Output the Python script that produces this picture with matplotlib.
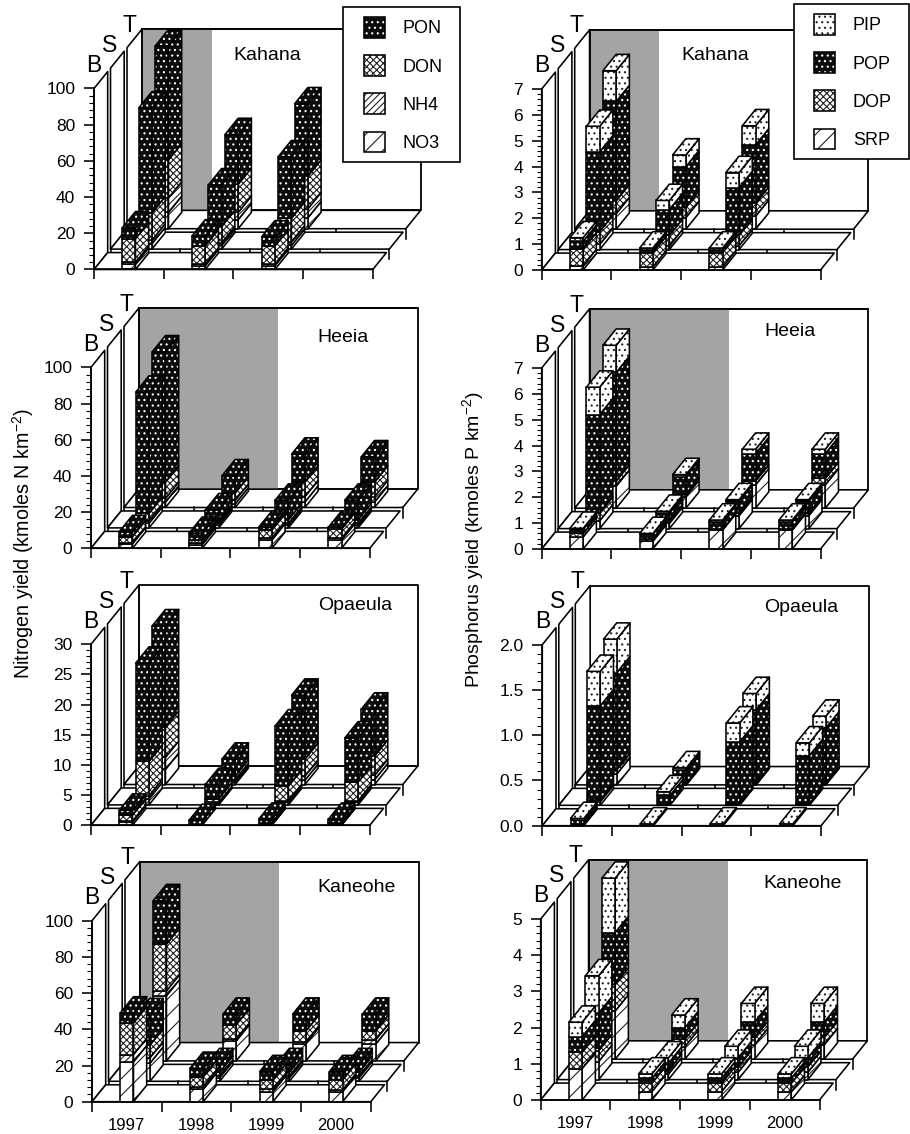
import numpy as np
import matplotlib
matplotlib.use("Agg")
import matplotlib.pyplot as plt
from matplotlib.patches import Polygon, Patch, Rectangle
from matplotlib.ticker import FixedLocator, NullFormatter
from matplotlib.legend_handler import HandlerTuple

plt.rcParams['font.family'] = ['Liberation Sans', 'DejaVu Sans']
plt.rcParams['mathtext.fontset'] = 'custom'
plt.rcParams['mathtext.rm'] = 'Liberation Sans'
plt.rcParams['mathtext.default'] = 'regular'
plt.rcParams['hatch.linewidth'] = 0.8

# ---------- data: each bar is a stack, bottom to top -------------------
years = ['1997', '1998', '1999', '2000']
rows = ['T', 'S', 'B']
n_labels = ['PON', 'DON', 'NH4', 'NO3']   # legend order (top to bottom)
p_labels = ['PIP', 'POP', 'DOP', 'SRP']

# Nitrogen: NO3, NH4, DON, PON
kahana_n_b = [[3, 1, 13, 6], [2, 1, 10, 5.5], [2, 1, 10, 5], [0, 0, 0, 0]]
kahana_n_s = [[3, 2, 15, 58], [2, 1.5, 9, 23], [2, 2, 13, 34], [0, 0, 0, 0]]
kahana_n_t = [[9, 8, 21, 63], [5, 4, 15.5, 27.5], [6, 5, 18, 40], [0, 0, 0, 0]]
heeia_n_b = [[2.5, .5, 3.5, 2.7], [2, 1, 1.5, 3.8], [4.6, 1, 4.5, 1.5], [4.6, 1, 5, 1]]
heeia_n_s = [[2.5, 1.5, 4, 67], [1.5, 1, 1.5, 6], [1.5, 1, 2, 10.8], [1.5, 1, 2, 10.8]]
heeia_n_t = [[3, 2, 9, 72], [2, 2, 4, 9.5], [3, 3, 8, 15.5], [3, 3, 8, 14]]
opaeula_n_b = [[.5, .2, 1, .8], [0, 0, 0, .8], [.1, .1, .2, .6], [.1, .1, .2, .6]]
opaeula_n_s = [[1, .5, 5.7, 16.3], [.2, .2, .6, 2.4], [.4, .3, 2.4, 10], [.4, .3, 3.1, 7.3]]
opaeula_n_t = [[2.5, 2, 5, 16.8], [.4, .4, .6, 2.8], [.7, .7, 2.8, 10.6], [.8, .7, 3.2, 7.8]]
kaneohe_n_b = [[22, 4, 17.5, 5.5], [6.8, 1.5, 5.5, 4.6], [5.5, 1.5, 5, 4.6], [5.5, 1, 5.5, 4.6]]
kaneohe_n_s = [[10, 3, 7, 16.8], [2, 1, 2, 4.2], [2, 1, 2, 4.2], [2, 1, 2, 4.2]]
kaneohe_n_t = [[36, 2.7, 25.8, 24], [11, 1, 8, 5.8], [9.6, .9, 6, 9.3], [9.2, 2.4, 5, 9.2]]

# Phosphorus: SRP, DOP, POP, PIP
kahana_p_b = [[.17, .64, .3, .14], [.12, .55, .12, .06], [.12, .55, .12, .06], [0, 0, 0, 0]]
kahana_p_s = [[.2, .5, 3.08, .99], [.15, .4, 1.0, .35], [.15, .4, 1.85, .58], [0, 0, 0, 0]]
kahana_p_t = [[.6, .5, 3.84, 1.19], [.45, .4, 1.57, .45], [.5, .5, 2.26, .74], [0, 0, 0, 0]]
heeia_p_b = [[.47, .13, .17, .03], [.3, .1, .17, .03], [.73, .03, .3, .06], [.73, .03, .3, .06]]
heeia_p_s = [[.3, .3, 3.81, 1.06], [.2, .1, .3, .07], [.5, .1, .45, .07], [.5, .1, .45, .07]]
heeia_p_t = [[.85, .2, 4.2, 1.05], [.45, .1, .67, .08], [.9, .15, 1.06, .17], [.9, .25, .96, .17]]
opaeula_p_b = [[.01, .01, .04, .02], [0, 0, 0, .02], [0, 0, 0, .02], [0, 0, 0, .02]]
opaeula_p_s = [[.04, .02, 1.04, .38], [0, 0, .11, .04], [.01, .01, .68, .21], [.01, .01, .53, .14]]
opaeula_p_t = [[.12, .05, 1.07, .37], [0, .02, .14, .03], [.01, .01, .81, .18], [.01, .01, .61, .13]]
kaneohe_p_b = [[.87, .45, .43, .4], [.23, .23, .14, .12], [.23, .23, .14, .12], [.23, .23, .14, .12]]
kaneohe_p_s = [[.5, .3, 1.04, 1.03], [.15, .1, .2, .15], [.2, .15, .25, .32], [.2, .15, .25, .32]]
kaneohe_p_t = [[1.33, .74, 1.43, 1.5], [.35, .2, .32, .35], [.4, .2, .43, .51], [.4, .2, .43, .51]]

# ---------- styles: (face, hatch colour, hatch) ------------------------
DARK = ('#0c0c0c', 'white', '...')
CROSS = ('white', '#222222', 'xxxxx')
DIAG = ('white', '#222222', '/////')
OPEN = ('white', '#222222', '//')
LIGHT = ('white', '#222222', '...')
N_STYLE = [OPEN, DIAG, CROSS, DARK]
P_STYLE = [OPEN, CROSS, DARK, LIGHT]

W, H = 910, 1134
SLOT = 69.7
PLOT_H = 181
DX_PX, DY_PX = 16.5, 20.4
ROW_DEPTH = {'B': .83, 'S': .83, 'T': .9}
ROW_FRONT = {'B': 0, 'S': 1, 'T': 2}
BAR_L, BAR_R, BAR_D = .405, .595, .8
LW = 1.15
GREY = '#a4a4a4'
TOTAL_D = 2.9

panels = [
    # name, origin px, ymax, major step, grey slots, title centre px, data, style, ticks fmt
    ('Kahana', 94, 269.5, 100, 20, 1, (267, 55), (kahana_n_t, kahana_n_s, kahana_n_b), N_STYLE, '%d', False),
    ('Heeia', 91, 548.3, 100, 20, 2, (343, 337), (heeia_n_t, heeia_n_s, heeia_n_b), N_STYLE, '%d', False),
    ('Opaeula', 91, 825.3, 30, 5, 0, (355, 606), (opaeula_n_t, opaeula_n_s, opaeula_n_b), N_STYLE, '%d', False),
    ('Kaneohe', 92, 1101.7, 100, 20, 2, (357, 887), (kaneohe_n_t, kaneohe_n_s, kaneohe_n_b), N_STYLE, '%d', True),
    ('Kahana', 541.7, 270, 7, 1, 1, (715, 55), (kahana_p_t, kahana_p_s, kahana_p_b), P_STYLE, '%d', False),
    ('Heeia', 541.7, 549, 7, 1, 2, (790, 332), (heeia_p_t, heeia_p_s, heeia_p_b), P_STYLE, '%d', False),
    ('Opaeula', 542.3, 825.7, 2.0, .5, 0, (801, 608), (opaeula_p_t, opaeula_p_s, opaeula_p_b), P_STYLE, '%.1f', False),
    ('Kaneohe', 540.7, 1100, 5, 1, 2, (803, 883), (kaneohe_p_t, kaneohe_p_s, kaneohe_p_b), P_STYLE, '%d', True),
]

fig = plt.figure(figsize=(W / 100, H / 100), dpi=100, facecolor='white')


def draw_panel(name, x0, y0, ymax, step, grey, tpos, data, style, fmt, show_years):
    ext_x = TOTAL_D * DX_PX
    ext_y = TOTAL_D * DY_PX
    ax = fig.add_axes([x0 / W, 1 - y0 / H, (4 * SLOT + ext_x) / W, (PLOT_H + ext_y) / H])
    ax.set_xlim(0, 4 + ext_x / SLOT)
    ax.set_ylim(0, ymax * (PLOT_H + ext_y) / PLOT_H)
    ax.patch.set_visible(False)
    px_v = ymax / PLOT_H
    dx, dy = DX_PX / SLOT, DY_PX * px_v
    order = [1.0]

    def proj(x, v, d):
        return (x + d * dx, v + d * dy)

    def poly(pts, fc='white', ec='black', lw=LW, st=None):
        order[0] += 0.0004
        if st is not None:
            ax.add_patch(Polygon(pts, closed=True, facecolor=st[0], edgecolor=st[1],
                                 hatch=st[2], lw=0, zorder=order[0], clip_on=False))
            ax.add_patch(Polygon(pts, closed=True, fill=False, edgecolor='black',
                                 lw=lw, zorder=order[0], clip_on=False, joinstyle='round'))
        else:
            ax.add_patch(Polygon(pts, closed=True, facecolor=fc, edgecolor=ec,
                                 lw=lw, zorder=order[0], clip_on=False, joinstyle='round'))

    def bar(row_d, slot, stack):
        if sum(stack) == 0:
            return
        xl, xr = slot + BAR_L, slot + BAR_R
        base = 0.0
        d0, d1 = row_d, row_d + BAR_D
        for val, st in zip(stack, style):
            if val <= 0:
                continue
            top = base + val
            poly([proj(xr, base, d0), proj(xr, base, d1), proj(xr, top, d1), proj(xr, top, d0)], st=st)
            poly([proj(xl, base, d0), proj(xr, base, d0), proj(xr, top, d0), proj(xl, top, d0)], st=st)
            base = top
            last = st
        poly([proj(xl, base, d0), proj(xr, base, d0), proj(xr, base, d1), proj(xl, base, d1)], st=last)

    # back wall with optional grey band
    top_d = ROW_FRONT['T'] + ROW_DEPTH['T']
    poly([proj(0, 0, top_d), proj(4, 0, top_d), proj(4, ymax, top_d), proj(0, ymax, top_d)], lw=1.3)
    if grey:
        poly([proj(0, 0, top_d), proj(grey, 0, top_d), proj(grey, ymax, top_d), proj(0, ymax, top_d)],
             fc=GREY, ec='none', lw=0)
        ax.plot(*zip(proj(0, ymax, top_d), proj(4, ymax, top_d)), color='k', lw=1.3,
                zorder=order[0], solid_capstyle='round', clip_on=False)
        ax.plot(*zip(proj(0, 0, top_d), proj(0, ymax, top_d)), color='k', lw=1.3,
                zorder=order[0], clip_on=False)

    for rname, rdata in zip(rows, data):
        d0 = ROW_FRONT[rname]
        d1 = d0 + ROW_DEPTH[rname]
        # left wall and floor of this row
        poly([proj(0, 0, d0), proj(0, ymax, d0), proj(0, ymax, d1), proj(0, 0, d1)])
        poly([proj(0, 0, d0), proj(4, 0, d0), proj(4, 0, d1), proj(0, 0, d1)])
        # slot ticks hanging from the row's front edge
        if rname != 'B':
            for s in range(5):
                p = proj(s, 0, d0)
                order[0] += 0.0004
                ax.plot([p[0], p[0]], [p[1], p[1] - 10 * px_v], color='k', lw=LW,
                        zorder=order[0], clip_on=False)
        for s, stack in enumerate(rdata):
            bar(d0, s, stack)

    # real axes: left value axis and bottom year axis on the front row
    for sp in ('top', 'right'):
        ax.spines[sp].set_visible(False)
    ax.spines['left'].set_bounds(0, ymax)
    ax.spines['bottom'].set_bounds(0, 4)
    ax.spines['left'].set_linewidth(LW)
    ax.spines['bottom'].set_linewidth(LW)
    major = np.arange(0, ymax + step / 2, step)
    minor = [m for m in np.arange(0, ymax + step / 10, step / 5) if not np.any(np.isclose(m, major))]
    ax.set_yticks(major)
    ax.set_yticklabels([fmt % m for m in major])
    ax.yaxis.set_minor_locator(FixedLocator(minor))
    ax.yaxis.set_minor_formatter(NullFormatter())
    ax.tick_params(axis='y', which='major', length=7.5, width=LW, labelsize=12.5, pad=6)
    ax.tick_params(axis='y', which='minor', length=3.6, width=.8)
    ax.set_xticks(range(5))
    ax.set_xticklabels([])
    ax.tick_params(axis='x', which='major', length=7.2, width=LW)
    if show_years:
        ax.set_xticks(np.arange(4) + .5, minor=True)
        ax.set_xticklabels(years, minor=True)
        ax.tick_params(axis='x', which='minor', length=0, labelsize=12, pad=11.5)

    # row letters and station name
    for letter, (ox, oy) in zip('BST', [(0, 204), (15.5, 224), (35, 244)]):
        ax.annotate(letter, xy=(0, 0), xycoords='data', xytext=(ox * .72, oy * .72),
                    textcoords='offset points', ha='center', va='center', fontsize=16.5,
                    annotation_clip=False, zorder=3)
    fig.text(tpos[0] / W, 1 - tpos[1] / H, name, ha='center', va='center', fontsize=14, zorder=6)


for p in panels:
    draw_panel(*p)

fig.text(23 / W, 1 - 544 / H, 'Nitrogen yield (kmoles N km$^{-2}$)', rotation=90,
         ha='center', va='center', fontsize=14.2)
fig.text(473 / W, 1 - 540 / H, 'Phosphorus yield (kmoles P km$^{-2}$)', rotation=90,
         ha='center', va='center', fontsize=14)


def add_legend(labels, styles, box, anchor):
    fig.add_artist(Rectangle((box[0] / W, 1 - box[3] / H), (box[2] - box[0]) / W, (box[3] - box[1]) / H,
                             transform=fig.transFigure, fc='white', ec='black', lw=1.2, zorder=4))
    handles = [(Patch(facecolor=s[0], edgecolor=s[1], hatch=s[2], lw=0),
                Patch(fill=False, edgecolor='black', lw=LW)) for s in styles]
    fs = 13
    px = fs * 100 / 72
    leg = fig.legend(handles, labels, handler_map={tuple: HandlerTuple(ndivide=1, pad=0)},
                     loc='upper left', bbox_to_anchor=(anchor[0] / W, 1 - anchor[1] / H),
                     frameon=False, fontsize=fs, borderpad=0, borderaxespad=0,
                     handlelength=21 / px, handleheight=1.41,
                     labelspacing=17.2 / px, handletextpad=18 / px)
    leg.set_zorder(5)


add_legend(n_labels, N_STYLE[::-1], (343, 7, 460, 162), (364, 17))
add_legend(p_labels, P_STYLE[::-1], (794, 4, 909, 159), (814, 14))

fig.savefig('out.png', dpi=100, facecolor='white')
